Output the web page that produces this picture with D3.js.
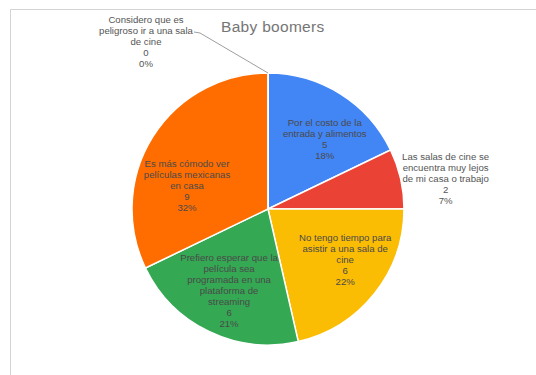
<!DOCTYPE html>
<html><head><meta charset="utf-8">
<script src="https://cdn.jsdelivr.net/npm/d3@7"></script>
<style>body{margin:0;background:#fff;font-family:Arial,"Liberation Sans",sans-serif}</style>
</head><body><svg id="c" width="536" height="375"></svg>
<script>
const title = "Baby boomers";
const categories = [
  "Por el costo de la entrada y alimentos",
  "Las salas de cine se encuentra muy lejos de mi casa o trabajo",
  "No tengo tiempo para asistir a una sala de cine",
  "Prefiero esperar que la película sea programada en una plataforma de streaming",
  "Es más cómodo ver películas mexicanas en casa",
  "Considero que es peligroso ir a una sala de cine"
];
const values = [5, 2, 6, 6, 9, 0];
const percentLabels = ["18%", "7%", "22%", "21%", "32%", "0%"];
const labelLines = [
  ["Por el costo de la", "entrada y alimentos"],
  ["Las salas de cine se", "encuentra muy lejos", "de mi casa o trabajo"],
  ["No tengo tiempo para", "asistir a una sala de", "cine"],
  ["Prefiero esperar que la", "película sea", "programada en una", "plataforma de", "streaming"],
  ["Es más cómodo ver", "películas mexicanas", "en casa"],
  ["Considero que es", "peligroso ir a una sala", "de cine"]
];
const colors = ["#4285F4", "#EA4335", "#FBBC04", "#34A853", "#FF6D01", "#46BDC6"];

const svg = d3.select("#c");
// frame
svg.append("line").attr("x1",10.5).attr("y1",9.5).attr("x2",536).attr("y2",9.5).attr("stroke","#d3d3d3");
svg.append("line").attr("x1",10.5).attr("y1",9.5).attr("x2",10.5).attr("y2",375).attr("stroke","#d3d3d3");

svg.append("text").attr("x",221).attr("y",32).attr("font-size",15.5).attr("fill","#757575")
  .attr("letter-spacing",0.3).text(title);

const cx = 268, cy = 209, R = 136;
const g = svg.append("g").attr("transform",`translate(${cx},${cy})`);
const pie = d3.pie().sort(null).value(d=>d);
const arcs = pie(values);
const arc = d3.arc().innerRadius(0).outerRadius(R);
g.selectAll("path").data(arcs).enter().append("path")
  .attr("d",arc).attr("fill",(d,i)=>colors[i])
  .attr("stroke","#fff").attr("stroke-width",1.5);

// label positions: radius factor and small offsets (layout only)
const layout = [
  {rf:0.66, dx:9, dy:6, fill:"#4a4a4a"},
  {rf:1.0, dx:45, dy:0, fill:"#555"},
  {rf:0.66, dx:7, dy:-5, fill:"#4a4a4a"},
  {rf:0.66, dx:0, dy:1, fill:"#4a4a4a"},
  {rf:0.66, dx:-5, dy:24, fill:"#4a4a4a"},
  {rf:1.0, dx:0, dy:0, fill:"#555"}
];
const lh = 11, fs = 9.6;
arcs.forEach((a,i)=>{
  const lines = labelLines[i].concat([String(values[i]), percentLabels[i]]);
  const L = layout[i];
  let x, y;
  if (values[i] === 0) {
    // leader line for zero slice
    const p0 = [0, -R];
    x = 146 - cx; y = 42 - cy;
    g.append("polyline").attr("points",`${p0[0]},${p0[1]} ${200-cx},${33-cy} ${194-cx},${32-cy}`)
      .attr("fill","none").attr("stroke","#9e9e9e").attr("stroke-width",1);
  } else {
    const m = (a.startAngle + a.endAngle)/2;
    const r = R*L.rf;
    x = Math.sin(m)*r + L.dx; y = -Math.cos(m)*r + L.dy;
  }
  const t = g.append("text").attr("text-anchor","middle").attr("font-size",fs).attr("fill",L.fill);
  const y0 = y - (lines.length-1)*lh/2;
  lines.forEach((s,k)=>t.append("tspan").attr("x",x).attr("y",y0+k*lh).attr("dy","0.35em").text(s));
});
</script></body></html>
